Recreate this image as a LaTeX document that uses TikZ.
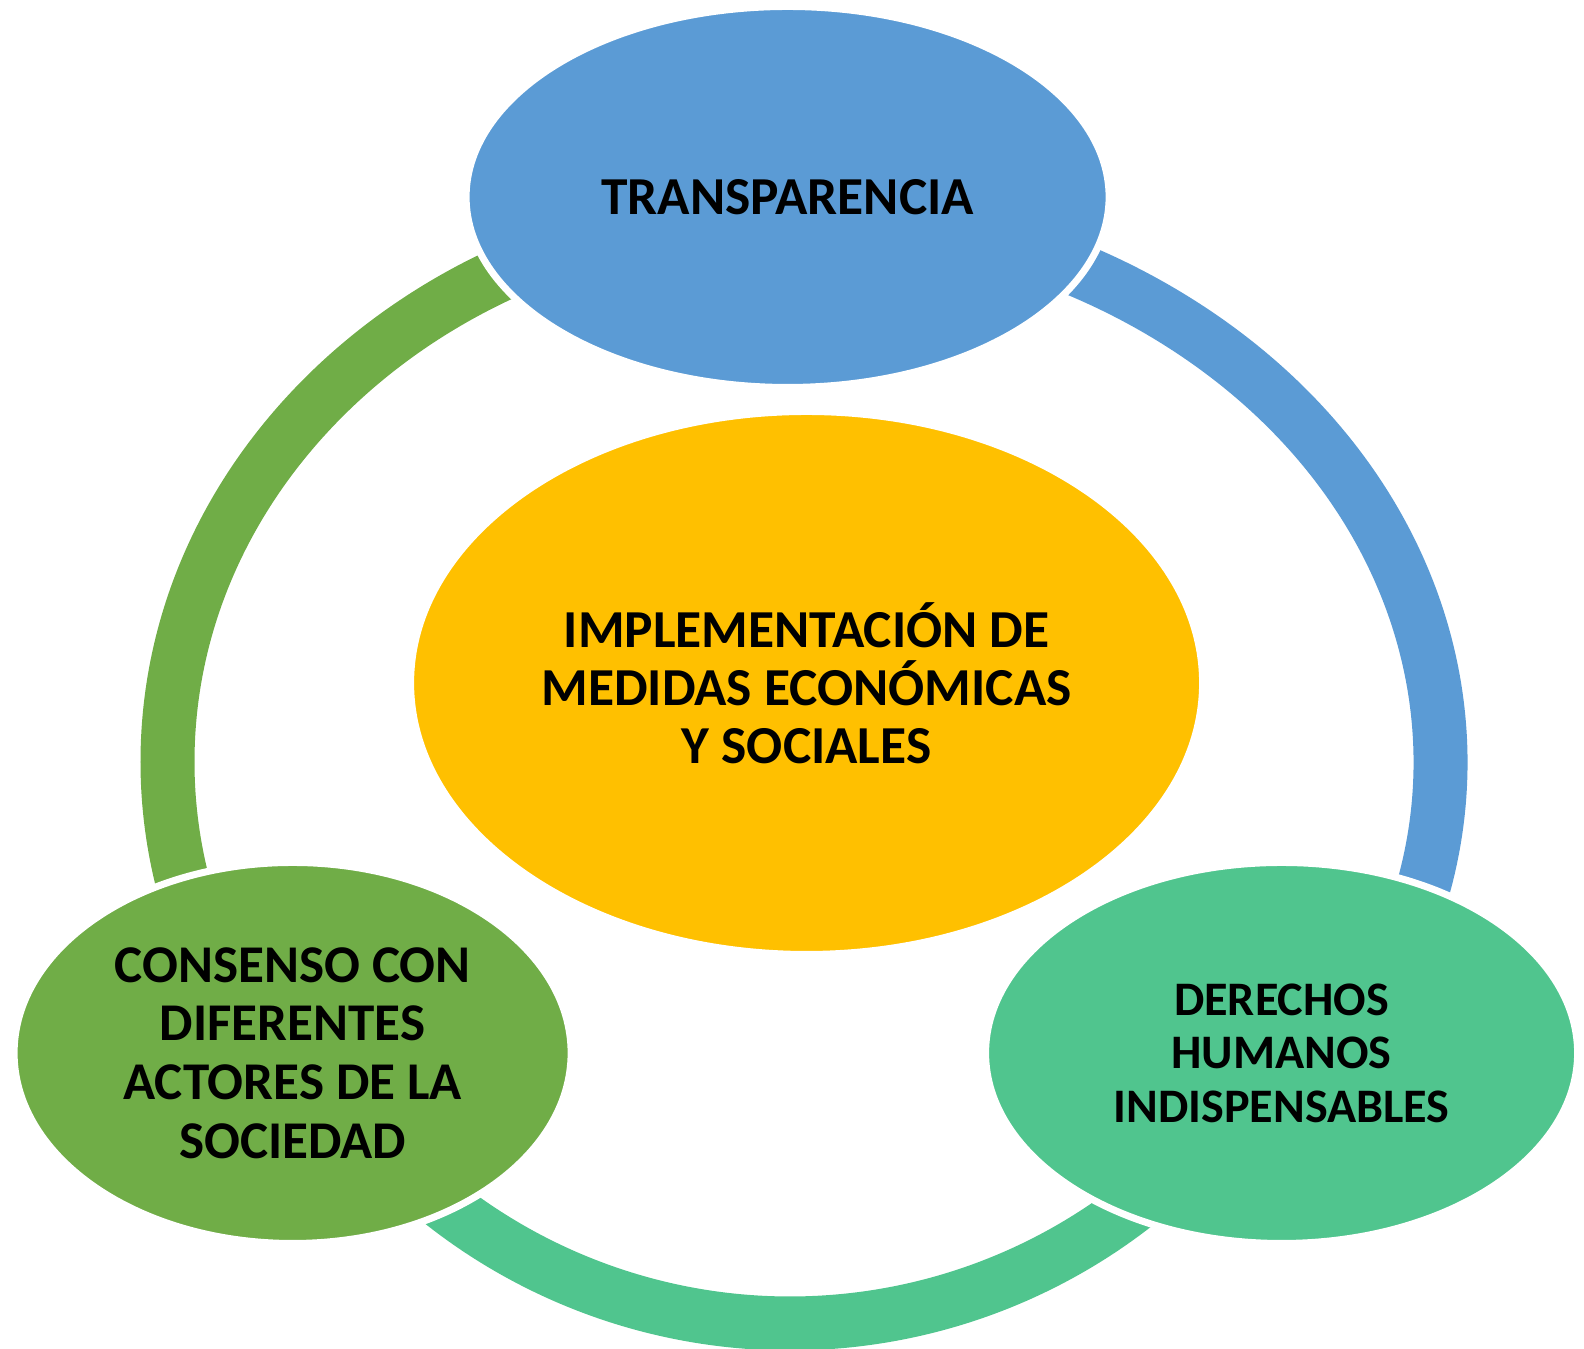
\documentclass[tikz,border=0pt]{standalone}
\usepackage{fontspec}
\setmainfont{Carlito}
\usetikzlibrary{shapes.geometric,positioning}
\definecolor{transblue}{HTML}{5B9BD5}
\definecolor{implyellow}{HTML}{FFC000}
\definecolor{consgreen}{HTML}{70AD47}
\definecolor{derteal}{HTML}{50C58E}
\tikzset{bubble/.style={ellipse, draw=white, line width=0.07cm, inner sep=0pt, align=center}}

\begin{document}
\begin{tikzpicture}
	\useasboundingbox (0,0) rectangle (15.84,13.49);
	% ring pieces behind the bubbles
	\foreach \a/\b/\cx/\rx/\ry/\c in {90/215/7.90/6.225/5.505/consgreen, 215/325/7.90/5.615/5.615/derteal, -35/90/7.83/6.575/5.505/transblue}
		\draw [line width=0.54cm, \c] (\cx,5.87) ++({\rx*cos(\a)},{\ry*sin(\a)}) arc [start angle=\a, end angle=\b, x radius=\rx, y radius=\ry];

	\node [bubble, fill=implyellow, minimum width=7.92cm, minimum height=5.43cm, font=\bfseries\fontsize{15.2}{16.5}\selectfont] (impl) at (8.066,6.66) {IMPLEMENTACIÓN DE\\MEDIDAS ECONÓMICAS\\Y SOCIALES};
	\node [bubble, fill=transblue, minimum width=6.43cm, minimum height=3.81cm, above of=impl, node distance=4.86cm, xshift=-0.19cm, font=\bfseries\fontsize{15.2}{16.5}\selectfont] (transp) {TRANSPARENCIA};
	\node [bubble, fill=consgreen, minimum width=5.57cm, minimum height=3.81cm, below of=impl, node distance=3.7cm, xshift=-5.14cm, font=\bfseries\fontsize{15.1}{16.7}\selectfont] (cons) {CONSENSO CON\\DIFERENTES\\ACTORES DE LA\\SOCIEDAD};
	\node [bubble, fill=derteal, minimum width=5.92cm, minimum height=3.81cm, below of=impl, node distance=3.7cm, xshift=4.75cm, font=\bfseries\fontsize{13.7}{15.2}\selectfont] (der) {DERECHOS\\HUMANOS\\INDISPENSABLES};
\end{tikzpicture}
\end{document}
